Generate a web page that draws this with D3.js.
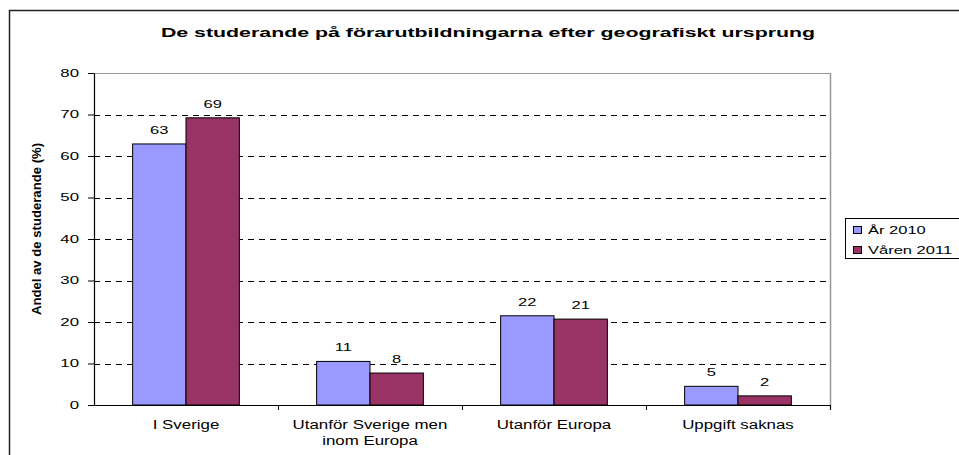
<!DOCTYPE html>
<html>
<head>
<meta charset="utf-8">
<script src="https://cdn.jsdelivr.net/npm/d3@7"></script>
<style>
    body { margin: 0; background: #fff; }
    text { font-family: "Liberation Sans", Arial, sans-serif; fill: #000; }
</style>
</head>
<body>
<div id="chart"></div>
<script>
const categories = [["I Sverige"], ["Utanför Sverige men", "inom Europa"], ["Utanför Europa"], ["Uppgift saknas"]]
const seriesNames = ["År 2010", "Våren 2011"]
const values2010 = [62.9, 10.5, 21.5, 4.5]
const values2011 = [69.2, 7.7, 20.7, 2.2]
const yTicks = [0, 10, 20, 30, 40, 50, 60, 70, 80]
const chartTitle = "De studerande på förarutbildningarna efter geografiskt ursprung"
const yTitle = "Andel av de studerande (%)"

const width = 959
const height = 455
const colors = ["#9999FF", "#993366"]

const svg = d3.select("#chart")
    .append("svg")
    .attr("width", width)
    .attr("height", height)

// stretch text horizontally like the original picture
function stretch(sel, factor) {
    sel.each(function() {
        const len = this.getComputedTextLength()
        d3.select(this).attr("textLength", len * factor).attr("lengthAdjust", "spacingAndGlyphs")
    })
}

// outer chart border (open on right and bottom)
svg.append("rect")
    .attr("x", 9.5).attr("y", 10.5)
    .attr("width", 1000).attr("height", 1000)
    .attr("fill", "none")
    .attr("stroke", "#222")
    .attr("stroke-width", 1.5)

const plot = { left: 94, right: 830, top: 73, bottom: 405 }

const y = d3.scaleLinear().domain([0, 80]).range([plot.bottom, plot.top])
const keys = categories.map(c => c.join(" "))
const x0 = d3.scaleBand().domain(keys).range([plot.left, plot.right]).paddingInner(0.42).paddingOuter(0.21)
const x1 = d3.scaleBand().domain(seriesNames).range([0, x0.bandwidth()])

// plot frame: top + right gray
svg.append("line")
    .attr("x1", plot.left).attr("x2", plot.right)
    .attr("y1", y(80) + 0.5).attr("y2", y(80) + 0.5)
    .attr("stroke", "#999")
svg.append("line")
    .attr("x1", plot.right + 0.5).attr("x2", plot.right + 0.5)
    .attr("y1", plot.top).attr("y2", plot.bottom + 5)
    .attr("stroke", "#999").attr("stroke-width", 1.5)

// dashed gridlines
svg.selectAll("gridLines")
    .data(yTicks.filter(t => t > 0 && t < 80))
    .enter()
    .append("line")
    .attr("x1", plot.left).attr("x2", plot.right)
    .attr("y1", d => Math.round(y(d)) + 0.5).attr("y2", d => Math.round(y(d)) + 0.5)
    .attr("stroke", "#000")
    .attr("stroke-dasharray", "6,5")

// bars
const rows = keys.map((k, i) => ({ key: k, vals: [values2010[i], values2011[i]] }))
const groups = svg.selectAll("groups")
    .data(rows)
    .enter()
    .append("g")
    .attr("transform", d => "translate(" + x0(d.key) + ",0)")

groups.selectAll("rect")
    .data(d => d.vals.map((v, j) => ({ name: seriesNames[j], value: v, idx: j })))
    .enter()
    .append("rect")
    .attr("x", d => x1(d.name))
    .attr("y", d => y(d.value))
    .attr("width", x1.bandwidth())
    .attr("height", d => y(0) - y(d.value))
    .attr("fill", d => colors[d.idx])
    .attr("stroke", "#000")
    .attr("stroke-width", 1)

groups.selectAll("valueLabels")
    .data(d => d.vals.map((v, j) => ({ name: seriesNames[j], value: v })))
    .enter()
    .append("text")
    .attr("x", d => x1(d.name) + x1.bandwidth() / 2)
    .attr("y", d => y(d.value) - 10)
    .attr("text-anchor", "middle")
    .style("font-size", "11px")
    .text(d => Math.round(d.value))
    .call(stretch, 1.5)

// y axis
const yAxis = svg.append("g")
    .attr("transform", "translate(" + plot.left + ",0)")
    .call(d3.axisLeft(y).tickValues(yTicks).tickSize(6).tickSizeOuter(0))
yAxis.select(".domain").attr("stroke", "#000").attr("stroke-width", 1.2)
yAxis.selectAll(".tick line").attr("stroke", "#000")
yAxis.selectAll(".tick text")
    .attr("x", -15)
    .style("font-size", "10.5px")
    .style("font-family", "'Liberation Sans', Arial, sans-serif")
    .attr("fill", "#000")
    .call(stretch, 1.6)

// x axis
svg.append("line")
    .attr("x1", plot.left).attr("x2", plot.right)
    .attr("y1", plot.bottom + 0.5).attr("y2", plot.bottom + 0.5)
    .attr("stroke", "#000").attr("stroke-width", 1.2)
svg.selectAll("catTicks")
    .data(keys)
    .enter()
    .append("line")
    .attr("x1", d => x0(d) + x0.bandwidth() + x0.step() * 0.21 + 0.5)
    .attr("x2", d => x0(d) + x0.bandwidth() + x0.step() * 0.21 + 0.5)
    .attr("y1", plot.bottom).attr("y2", plot.bottom + 5)
    .attr("stroke", "#000")

const catLabels = svg.selectAll("catLabels")
    .data(categories)
    .enter()
    .append("text")
    .attr("text-anchor", "middle")
    .style("font-size", "12.5px")
catLabels.each(function(d, i) {
    const g = d3.select(this)
    d.forEach(function(line, j) {
        g.append("tspan")
            .attr("x", x0(keys[i]) + x0.bandwidth() / 2)
            .attr("y", 429 + j * 16)
            .text(line)
    })
})
catLabels.each(function() {
    d3.select(this).selectAll("tspan").each(function() {
        const len = this.getComputedTextLength()
        d3.select(this).attr("textLength", len * 1.35).attr("lengthAdjust", "spacingAndGlyphs")
    })
})

// titles
svg.append("text")
    .attr("x", 488).attr("y", 37)
    .attr("text-anchor", "middle")
    .style("font-size", "13.5px")
    .style("font-weight", "bold")
    .text(chartTitle)
    .call(stretch, 1.58)

svg.append("text")
    .attr("transform", "translate(41,229) rotate(-90)")
    .attr("text-anchor", "middle")
    .style("font-size", "12.5px")
    .style("font-weight", "bold")
    .text(yTitle)
    .call(stretch, 1.05)

// legend
svg.append("rect")
    .attr("x", 845.5).attr("y", 218.5)
    .attr("width", 120).attr("height", 40)
    .attr("fill", "#fff").attr("stroke", "#000")
const items = svg.selectAll("legendItems")
    .data(seriesNames)
    .enter()
    .append("g")
    .attr("transform", (d, i) => "translate(853," + (226 + i * 20) + ")")
items.append("rect")
    .attr("x", 0.5).attr("y", 0.5)
    .attr("width", 8).attr("height", 7)
    .attr("fill", (d, i) => colors[i])
    .attr("stroke", "#000")
items.append("text")
    .attr("x", 15).attr("y", 8)
    .style("font-size", "11px")
    .text(d => d)
    .call(stretch, 1.5)
</script>
</body>
</html>
